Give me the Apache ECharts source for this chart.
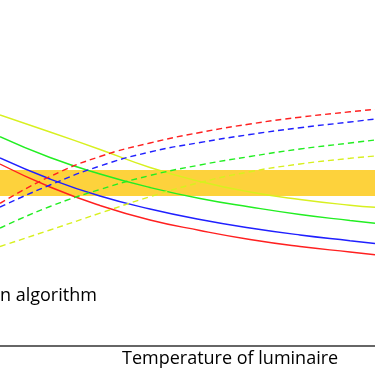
<!DOCTYPE html>
<html><head><meta charset="utf-8">
<script src="https://cdn.jsdelivr.net/npm/echarts@6/dist/echarts.min.js"></script>
<style>html,body{margin:0;padding:0;background:#fff}#c{width:375px;height:375px}</style>
</head><body><div id="c"></div>
<script>
// Temperature positions (visible slice of the x axis)
const temps = [0, 50, 100, 150, 200, 250, 300, 350, 375];
// Solid curves (decreasing with temperature)
const redSolid    = [182, 159, 140.5, 126, 115.5, 106.5, 99.5, 94, 91.3];
const blueSolid   = [188, 167, 150, 137, 126.5, 118, 111, 105.3, 102.5];
const greenSolid  = [209.3, 188.5, 172, 158.5, 147.5, 139, 131.5, 125.5, 122.7];
const yellowSolid = [231, 214, 196.5, 178.5, 164.5, 154, 146.5, 140.8, 138.7];
// Dashed curves (increasing with temperature)
const redDashed    = [142.7, 169.5, 189.5, 203, 213.5, 222, 228.8, 234.2, 236.6];
const blueDashed   = [139, 161, 180, 194, 203.5, 211.5, 218.3, 224, 227];
const greenDashed  = [118, 139.5, 156.5, 170.5, 181, 189.5, 197, 203, 206];
const yellowDashed = [99.5, 116, 132.8, 149.3, 163.5, 174.3, 182, 187.7, 190];
// Target band
const bandLow = 150, bandHigh = 176;
const xTitle = 'Temperature of luminaire';
const noteText = 'n algorithm';

const colors = {red:'#ff2020', blue:'#2020ff', green:'#22ee22', yellow:'#d8f020'};
function mk(name, data, color, dashed){
  return {name, type:'line', smooth:0.5, symbol:'none', z:3,
    data: temps.map((t,i)=>[t,data[i]]),
    lineStyle:{color, width:1.4, type: dashed ? [6,4] : 'solid'}};
}
const chart = echarts.init(document.getElementById('c'), null, {renderer:'canvas'});
chart.setOption({
  animation:false,
  grid:{left:0, right:0, top:0, bottom:29},
  xAxis:{type:'value', min:0, max:375, axisLabel:{show:false}, axisTick:{show:false},
    splitLine:{show:false}, axisLine:{lineStyle:{color:'#333', width:1.5}}},
  yAxis:{type:'value', min:0, max:346, show:false, splitLine:{show:false}},
  series:[
    {type:'line', data:[], z:1, silent:true,
      markArea:{silent:true, itemStyle:{color:'#fdd23c'},
        data:[[{yAxis:bandLow},{yAxis:bandHigh}]]}},
    mk('rs', redSolid, colors.red, false),
    mk('bs', blueSolid, colors.blue, false),
    mk('gs', greenSolid, colors.green, false),
    mk('ys', yellowSolid, colors.yellow, false),
    mk('rd', redDashed, colors.red, true),
    mk('bd', blueDashed, colors.blue, true),
    mk('gd', greenDashed, colors.green, true),
    mk('yd', yellowDashed, colors.yellow, true)
  ],
  graphic:[
    {type:'text', left:122, top:350, style:{text:xTitle, font:'18px "Open Sans"', fill:'#000'}},
    {type:'text', left:0, top:287, style:{text:noteText, font:'18px "Open Sans"', fill:'#000'}}
  ]
});
</script></body></html>
